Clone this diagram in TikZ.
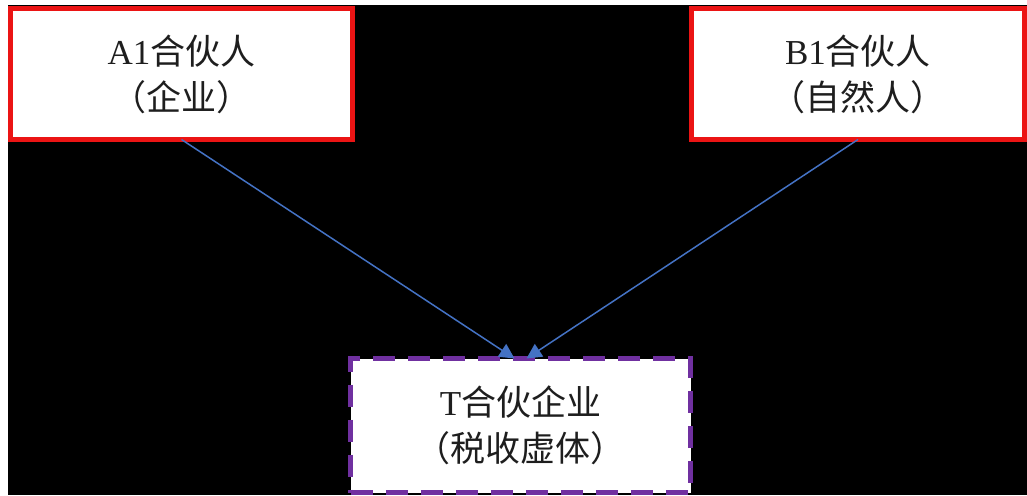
\documentclass[tikz,border=0pt]{standalone}
\usepackage{fontspec}
\setmainfont{Liberation Serif}
\newfontfamily\cjk{Noto Sans CJK SC}
\usetikzlibrary{arrows.meta}
\definecolor{boxred}{RGB}{235,20,20}
\definecolor{boxpurple}{RGB}{112,48,160}
\definecolor{linkblue}{RGB}{68,114,196}
\definecolor{txt}{RGB}{30,30,30}
\tikzset{
  box/.style={draw, fill=white, line width=5pt, outer sep=0pt, inner sep=0pt,
    align=center, text=txt, font=\fontsize{35}{46}\selectfont},
  partner/.style={box, draw=boxred, minimum height=131pt},
  entity/.style={box, draw=boxpurple, dash pattern=on 22pt off 13pt},
  link/.style={draw=linkblue, line width=1.5pt, -{Triangle[length=15pt,width=15pt]}}
}
\begin{document}
\begin{tikzpicture}[x=1pt,y=-1pt]
\useasboundingbox (0,0) rectangle (1027,495);
\fill[white] (0,0) rectangle (1027,495);
\fill[black] (8,5) rectangle (1027,495);
\node[partner, minimum width=342pt] (A1) at (181.5,74) {A1{\cjk 合伙人}\\{\cjk （企业）}};
\node[partner, minimum width=333pt] (B1) at (858,74) {B1{\cjk 合伙人}\\{\cjk （自然人）}};
\node[entity, minimum width=340pt, minimum height=134pt] (T) at (520.5,425.5) {T{\cjk 合伙企业}\\{\cjk （税收虚体）}};
\draw[link] (A1.south) -- ([xshift=-6pt]T.north);
\draw[link] (B1.south) -- ([xshift=6pt]T.north);
\end{tikzpicture}
\end{document}
